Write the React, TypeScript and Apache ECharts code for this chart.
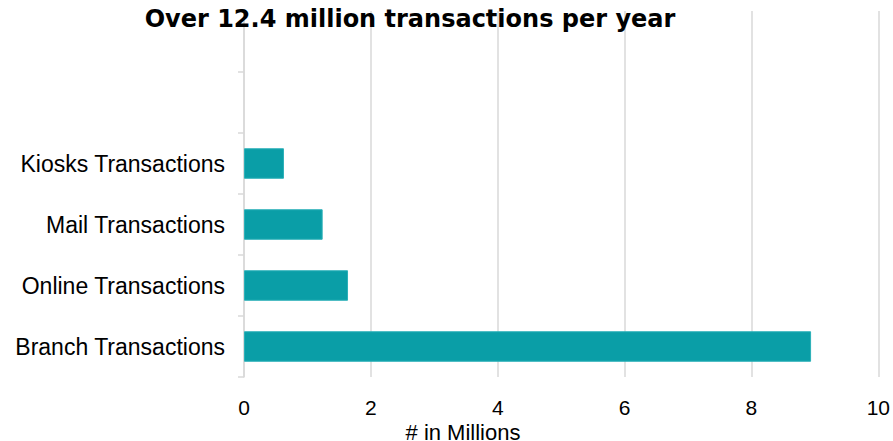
import React, { useEffect, useRef } from "react";
import * as echarts from "echarts";

const categories = [
  "Branch Transactions",
  "Online Transactions",
  "Mail Transactions",
  "Kiosks Transactions",
  "",
  "",
];
const values: (number | null)[] = [8.94, 1.64, 1.24, 0.63, null, null];
const xTicks = { min: 0, max: 10, interval: 2 };
const titleText = "Over 12.4 million transactions per year";
const axisName = "# in Millions";

export default function App() {
  const ref = useRef<HTMLDivElement>(null);
  useEffect(() => {
    if (!ref.current) return;
    const chart = echarts.init(ref.current, null, { renderer: "svg" });
    const font = "Liberation Sans, Arial, sans-serif";
    chart.setOption({
      animation: false,
      backgroundColor: "#ffffff",
      title: {
        text: titleText,
        left: 405,
        top: 2,
        textAlign: "center",
        textStyle: {
          fontFamily: "DejaVu Sans, sans-serif",
          fontSize: 24,
          fontWeight: "bold",
          color: "#000000",
        },
      },
      grid: { left: 244, right: 14, top: 11, bottom: 64, containLabel: false },
      xAxis: {
        type: "value",
        min: xTicks.min,
        max: xTicks.max,
        interval: xTicks.interval,
        axisLine: { show: false },
        axisTick: { show: false },
        splitLine: { show: true, lineStyle: { color: "#d9d9d9", width: 1.5 } },
        axisLabel: {
          margin: 20,
          fontFamily: font,
          fontSize: 21,
          color: "#000000",
        },
      },
      yAxis: {
        type: "category",
        data: categories,
        axisLine: { show: true, lineStyle: { color: "#d9d9d9", width: 1.5 } },
        axisTick: { show: true, length: 6, lineStyle: { color: "#d9d9d9", width: 1.5 } },
        splitLine: { show: false },
        axisLabel: {
          margin: 19,
          fontFamily: font,
          fontSize: 23,
          color: "#000000",
        },
      },
      graphic: [
        {
          type: "text",
          x: 463,
          y: 432,
          style: {
            text: axisName,
            fontFamily: font,
            fontSize: 22,
            fill: "#000000",
            textAlign: "center",
            textVerticalAlign: "middle",
          },
        },
      ],
      series: [
        {
          type: "bar",
          data: values,
          barWidth: "50%",
          itemStyle: { color: "#0a9ea7", borderColor: "#2bb0b8", borderWidth: 1 },
        },
      ],
    });
    return () => chart.dispose();
  }, []);
  return (
    <div
      ref={ref}
      style={{ position: "absolute", left: 0, top: 0, width: 893, height: 441 }}
    />
  );
}
